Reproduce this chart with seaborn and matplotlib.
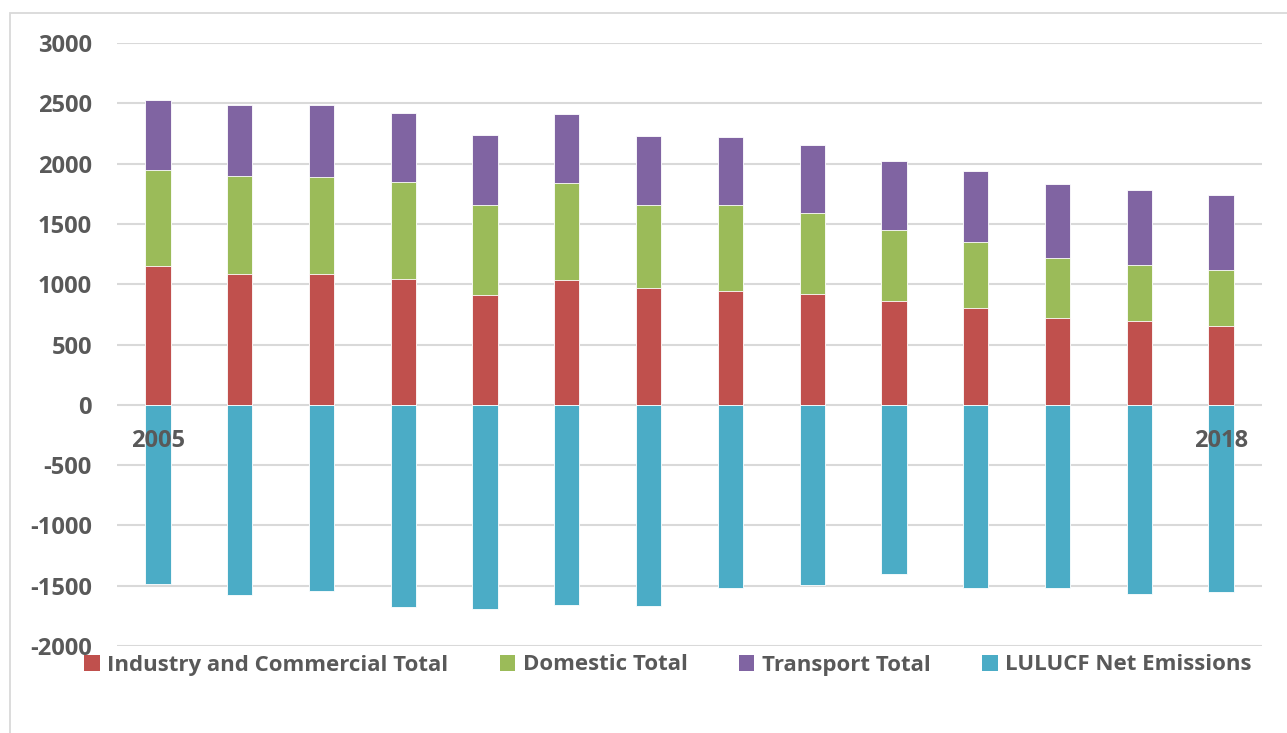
import matplotlib
matplotlib.use("Agg")
import matplotlib.pyplot as plt
from matplotlib.patches import Patch, Rectangle
import seaborn as sns
import numpy as np
import pandas as pd

years = list(range(2005, 2019))
industry = [1147, 1081, 1087, 1039, 910, 1031, 965, 940, 915, 857, 799, 716, 691, 655]
domestic = [796, 818, 798, 805, 749, 805, 694, 719, 675, 589, 547, 503, 470, 462]
transport = [584, 587, 601, 578, 575, 575, 569, 561, 564, 572, 592, 611, 619, 621]
lulucf = [-1482, -1581, -1543, -1675, -1695, -1659, -1667, -1523, -1496, -1404, -1518, -1518, -1570, -1556]
year_labels = ["2005", "", "", "", "", "", "", "", "", "", "", "", "", "2018"]

names = ["Industry and Commercial Total", "Domestic Total", "Transport Total", "LULUCF Net Emissions"]
colors = ["#C0504D", "#9BBB59", "#8064A2", "#4BACC6"]
text_col = "#595959"

sns.set_style("white")
plt.rcParams["font.family"] = ["Open Sans", "DejaVu Sans"]
plt.rcParams["axes.unicode_minus"] = False
tick_fs = 17
leg_fs = 16

df = pd.DataFrame({"year": years, "ind": industry, "dom": domestic,
                   "tra": transport, "lul": lulucf})
df["ind_dom"] = df["ind"] + df["dom"]
df["total"] = df["ind_dom"] + df["tra"]

fig = plt.figure(figsize=(12.87, 7.33), dpi=100)
ax = fig.add_axes([117 / 1287, 1 - 646 / 733, (1262 - 117) / 1287, (646 - 43) / 733])

# stacked by overlaying cumulative bars, tallest first
for col, c in [("total", colors[2]), ("ind_dom", colors[1]), ("ind", colors[0]), ("lul", colors[3])]:
    sns.barplot(data=df, x="year", y=col, color=c, width=0.31, ax=ax,
                edgecolor="white", linewidth=0.6, saturation=1, zorder=3)

ax.set_ylim(-2000, 3000)
ax.set_yticks(np.arange(-2000, 3001, 500))
ax.yaxis.grid(True, color="#d9d9d9", linewidth=1.5, zorder=0)
ax.set_axisbelow(True)
for s in ax.spines.values():
    s.set_visible(False)
ax.set_xlabel("")
ax.set_ylabel("")
ax.set_xticks([])
ax.tick_params(axis="y", length=0, pad=18, labelsize=tick_fs, labelcolor=text_col)
for t in ax.get_yticklabels():
    t.set_fontweight("bold")

# category labels shown only at the ends, inside the plot
for i, lab in enumerate(year_labels):
    if lab:
        ax.text(i, -300, lab, ha="center", va="center", fontsize=tick_fs,
                fontweight="bold", color=text_col, zorder=5)

handles = [Patch(facecolor=c, edgecolor="none") for c in colors]
fig.legend(handles, names, loc="center", bbox_to_anchor=(0.519, 1 - 665 / 733),
           ncol=4, frameon=False, handlelength=0.7, handleheight=0.7,
           handletextpad=0.35, columnspacing=2.3,
           prop={"size": leg_fs, "weight": "bold"}, labelcolor=text_col)

# chart frame (partly cut off at right and bottom)
fig.patches.append(Rectangle((10 / 1287, -0.1), 1.2, 1 - 13 / 733 + 0.1,
                             transform=fig.transFigure, fill=False,
                             edgecolor="#d9d9d9", linewidth=1.3))

fig.savefig("out.png", dpi=100)
